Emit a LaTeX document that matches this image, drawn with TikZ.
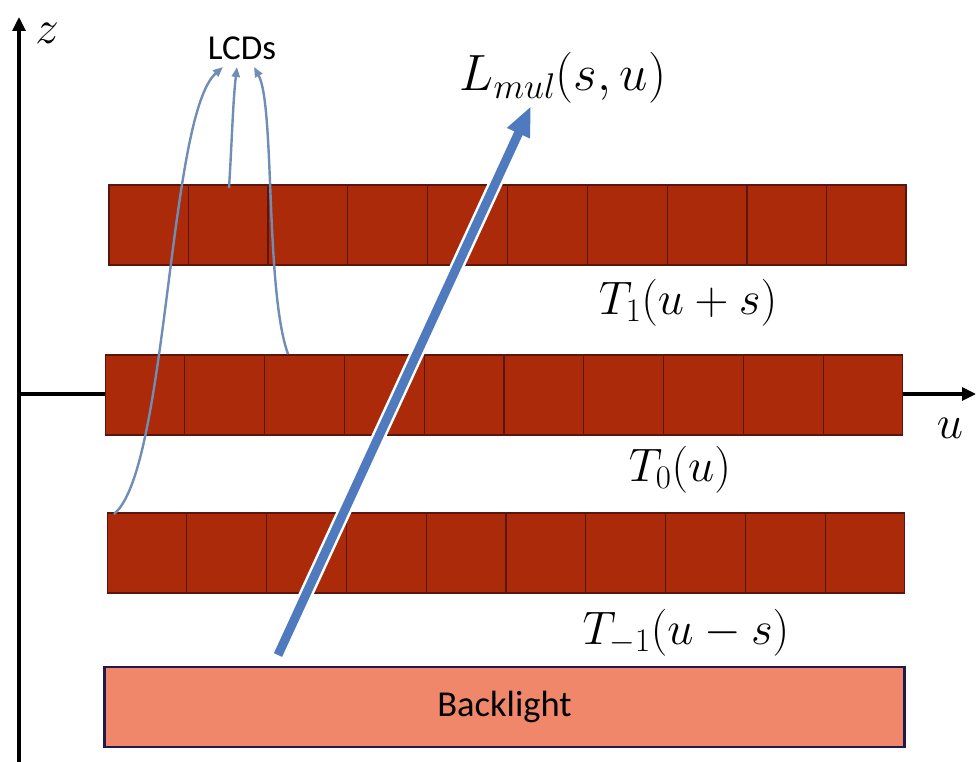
\RequirePackage{fix-cm}
\documentclass[tikz,border=0pt]{standalone}
\usepackage{fontspec}
\setmainfont{Carlito}
\usetikzlibrary{arrows.meta,calc}
\definecolor{cellred}{HTML}{AA2A0A}
\definecolor{celledge}{HTML}{5A160A}
\definecolor{blfill}{HTML}{F0876A}
\definecolor{bledge}{HTML}{1E1B4B}
\definecolor{raycol}{HTML}{4F7BBE}
\definecolor{thincol}{HTML}{6F8DB5}
\tikzset{
  layer/.style={draw=celledge, line width=1.2pt, fill=cellred, minimum width=797pt, minimum height=80pt, inner sep=0pt},
  backlight/.style={draw=bledge, line width=2.5pt, fill=blfill, minimum width=800pt, minimum height=80pt, inner sep=0pt, font=\fontsize{36.5}{42}\selectfont},
  axis/.style={line width=3.2pt, -{Triangle[length=14pt,width=13pt]}},
  mathlbl/.style={inner sep=0pt, font=\fontsize{47}{54}\selectfont},
  lcdarrow/.style={thincol, line width=2.4pt, -{Triangle[length=10pt,width=8pt]}},
}
\begin{document}
\begin{tikzpicture}[x=1pt,y=-1pt]
\useasboundingbox (0,0) rectangle (980,762);
\fill[white] (0,0) rectangle (980,762);
% axes
\coordinate (zbot) at (19,762);
\coordinate (ztop) at (19,17);
\coordinate (uleft) at (19,394);
\coordinate (uright) at (976,394);
\draw[axis] (zbot) -- (ztop);
\draw[axis] (uleft) -- (uright);
\node[mathlbl] (zl) at (47,33) {$z$};
\node[mathlbl] (ul) at (950,428) {$u$};
% layers
\node[layer] (top) at (507.5,225) {};
\node[layer] (mid) at (504,395) {};
\node[layer] (bot) at (506,553) {};
\foreach \L in {top,mid,bot}{
  \foreach \i in {1,...,9}{
    \draw[celledge, line width=1.2pt] ($(\L.north west)!\i/10!(\L.north east)$) -- ($(\L.south west)!\i/10!(\L.south east)$);
  }
}
\node[backlight] (bl) at (504.5,707) {Backlight};
% labels
\node[mathlbl] (t1) at (688,303) {$T_1(u+s)$};
\node[mathlbl] (t0) at (680,470) {$T_0(u)$};
\node[mathlbl] (tm1) at (686,633) {$T_{-1}(u-s)$};
\node[mathlbl, font=\fontsize{51}{58}\selectfont] (lmul) at (563,78) {$L_{mul}(s,u)$};
\node[inner sep=0pt, font=\fontsize{35}{42}\selectfont] (lcd) at (242,48) {LCDs};
% LCD connectors
\coordinate (c1) at (114,514);
\coordinate (c2) at (229,188);
\coordinate (c3) at (288,354);
\coordinate (e1) at (223,67);
\coordinate (e2) at (237,67);
\coordinate (e3) at (254,67);
\draw[lcdarrow] (c1) .. controls (168,470) and (168,115) .. (e1);
\draw[lcdarrow] (c2) .. controls (232,140) and (233,100) .. (e2);
\draw[lcdarrow] (c3) .. controls (265,290) and (275,105) .. (e3);
% ray
\coordinate (rs) at (278,655);
\coordinate (re) at (531,106);
\draw[white, line width=14pt, -{Triangle[length=32pt,width=28pt]}, shorten >=-2pt] (rs) -- (re);
\draw[raycol, line width=9pt, -{Triangle[length=30pt,width=23pt]}] (rs) -- (re);
\end{tikzpicture}
\end{document}
